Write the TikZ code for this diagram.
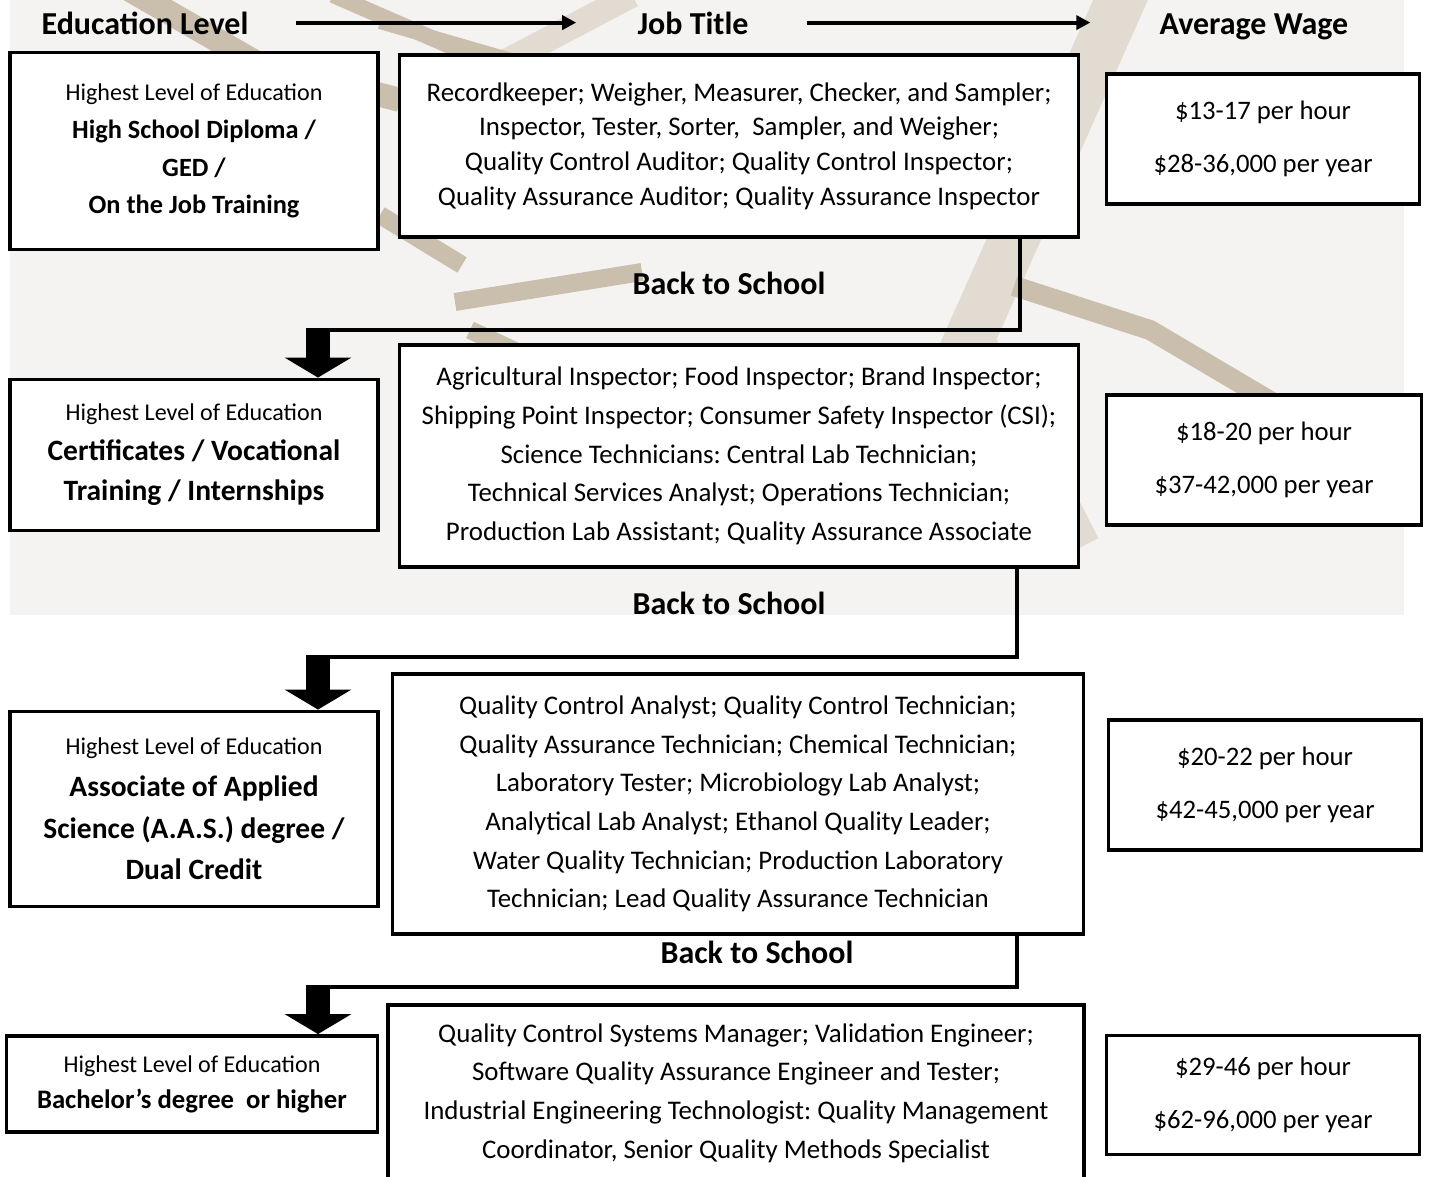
\documentclass[tikz,border=0pt]{standalone}
\usepackage{fontspec}
\setmainfont{Carlito}
\usetikzlibrary{arrows.meta,positioning}
\newlength{\pxu}\setlength{\pxu}{0.02cm}
\definecolor{paper}{RGB}{244,243,241}
\definecolor{beige}{RGB}{202,190,172}
\definecolor{beigelight}{RGB}{226,219,209}
\newcommand{\edusmall}{\normalfont\fontsize{13.7}{20}\selectfont}
\frenchspacing
\begin{document}
\begin{tikzpicture}[x=0.02cm,y=-0.02cm,
    box/.style={draw,line width=2.2pt,fill=white,align=center,inner sep=0pt},
    edu/.style={box,minimum width=368\pxu,font=\bfseries\fontsize{15}{22}\selectfont},
    job/.style={box,font=\fontsize{15.3}{22}\selectfont},
    wage/.style={box,minimum width=313\pxu,minimum height=130\pxu,font=\fontsize{15.2}{30.5}\selectfont},
    head/.style={font=\bfseries\fontsize{18.2}{22}\selectfont,anchor=base,inner sep=0pt,text height=13pt,text depth=4pt},
    back/.style={font=\bfseries\fontsize{18.2}{22}\selectfont},
    link/.style={line width=2.3pt},
    band/.style={beige,line width=#1},
    lightband/.style={beigelight,line width=#1},
    bigarrow/.style={line width=24\pxu,-{Triangle[width=1.32cm,length=0.4cm]},shorten <=-2\pxu},
    hdrarrow/.style={line width=2.3pt,-{Triangle[width=0.28cm,length=0.28cm]}}]
    \useasboundingbox (0,0) rectangle (1429,1176);

    % watermark behind the top half
    \begin{scope}
        \clip (10,0) rectangle (1404,615);
        \fill[paper] (10,0) rectangle (1404,615);
        \draw[lightband=50\pxu] (1125,-10) -- (960,360);
        \draw[lightband=30\pxu] (975,330) -- (1085,545);
        \draw[lightband=25\pxu] (632,-5) -- (505,62);
        \draw[band=24\pxu] (130,-10) -- (255,62) -- (400,100);
        \draw[band=16\pxu] (333,-5) -- (482,60);
        \draw[band=14\pxu] (380,22) -- (525,64);
        \draw[band=18\pxu] (380,215) -- (462,265);
        \draw[band=18\pxu] (455,302) -- (642,272);
        \draw[band=18\pxu] (470,330) -- (545,365);
        \draw[band=20\pxu] (1014,286) -- (1150,330) -- (1370,460) -- (1420,500);
    \end{scope}

    % column heads
    \node[head] (edhead) at (145,35) {Education Level};
    \node[head] (jobhead) at (693,35) {Job Title};
    \node[head] (wagehead) at (1254,35) {Average Wage};
    \draw[hdrarrow] ([xshift=47\pxu,yshift=4.5\pxu]edhead.east) -- ([xshift=-61\pxu,yshift=4.5\pxu]jobhead.west);
    \draw[hdrarrow] ([xshift=58\pxu,yshift=4.5\pxu]jobhead.east) -- ([xshift=-69\pxu,yshift=4.5\pxu]wagehead.west);

    % row 1
    \node[edu,minimum height=197\pxu,font=\bfseries\fontsize{15}{21.5}\selectfont] (edu1) at (194,151) {{\edusmall Highest Level of Education}\\High School Diploma /\\GED /\\On the Job Training};
    \node[job,minimum width=679\pxu,minimum height=182\pxu,font=\fontsize{15.3}{19.7}\selectfont] (job1) at (739,146) {Recordkeeper; Weigher, Measurer, Checker, and Sampler;\\Inspector, Tester, Sorter,~ Sampler, and Weigher;\\Quality Control Auditor; Quality Control Inspector;\\Quality Assurance Auditor; Quality Assurance Inspector};
    \node[wage] (wage1) at (1263,139) {\$13-17 per hour\\\$28-36,000 per year};
    \node[back] (back1) at (729,283) {Back to School};

    % row 2
    \node[edu,minimum height=151\pxu,font=\bfseries\fontsize{16.8}{22.7}\selectfont] (edu2) at (194,455) {{\edusmall Highest Level of Education}\\Certificates / Vocational\\Training / Internships};
    \node[job,minimum width=679\pxu,minimum height=222\pxu] (job2) at (739,456) {Agricultural Inspector; Food Inspector; Brand Inspector;\\Shipping Point Inspector; Consumer Safety Inspector (CSI);\\Science Technicians: Central Lab Technician;\\Technical Services Analyst; Operations Technician;\\Production Lab Assistant; Quality Assurance Associate};
    \node[wage,minimum width=315\pxu] (wage2) at (1264,460) {\$18-20 per hour\\\$37-42,000 per year};
    \node[back] (back2) at (729,603) {Back to School};

    % row 3
    \node[edu,minimum height=195\pxu,font=\bfseries\fontsize{16.8}{23.8}\selectfont] (edu3) at (194,809) {{\edusmall Highest Level of Education}\\Associate of Applied\\Science (A.A.S.) degree /\\Dual Credit};
    \node[job,minimum width=691\pxu,minimum height=260\pxu] (job3) at (738,804) {Quality Control Analyst; Quality Control Technician;\\Quality Assurance Technician; Chemical Technician;\\Laboratory Tester; Microbiology Lab Analyst;\\Analytical Lab Analyst; Ethanol Quality Leader;\\Water Quality Technician; Production Laboratory\\Technician; Lead Quality Assurance Technician};
    \node[wage] (wage3) at (1265,785) {\$20-22 per hour\\\$42-45,000 per year};
    \node[back] (back3) at (757,952) {Back to School};

    % row 4
    \node[edu,minimum width=371\pxu,minimum height=96\pxu,font=\bfseries\fontsize{15.2}{20.4}\selectfont] (edu4) at (192,1084) {{\edusmall Highest Level of Education}\\Bachelor’s degree ~or higher};
    \node[job,minimum width=696\pxu,minimum height=176\pxu] (job4) at (736,1093) {Quality Control Systems Manager; Validation Engineer;\\Software Quality Assurance Engineer and Tester;\\Industrial Engineering Technologist: Quality Management\\Coordinator, Senior Quality Methods Specialist};
    \node[wage,minimum height=119\pxu] (wage4) at (1263,1095) {\$29-46 per hour\\\$62-96,000 per year};

    % back to school connectors
    \coordinate (k1) at (1020,330);
    \coordinate (t1) at (318,330);
    \coordinate (k2) at (1017,657);
    \coordinate (t2) at (318,657);
    \coordinate (k3) at (1017,987);
    \coordinate (t3) at (318,987);
    \draw[link] (job1.south -| k1) -- (k1) -- (t1);
    \draw[bigarrow] (t1) -- (t1 |- edu2.north);
    \draw[link] (job2.south -| k2) -- (k2) -- (t2);
    \draw[bigarrow] (t2) -- (t2 |- edu3.north);
    \draw[link] (job3.south -| k3) -- (k3) -- (t3);
    \draw[bigarrow] (t3) -- (t3 |- edu4.north);
\end{tikzpicture}
\end{document}
